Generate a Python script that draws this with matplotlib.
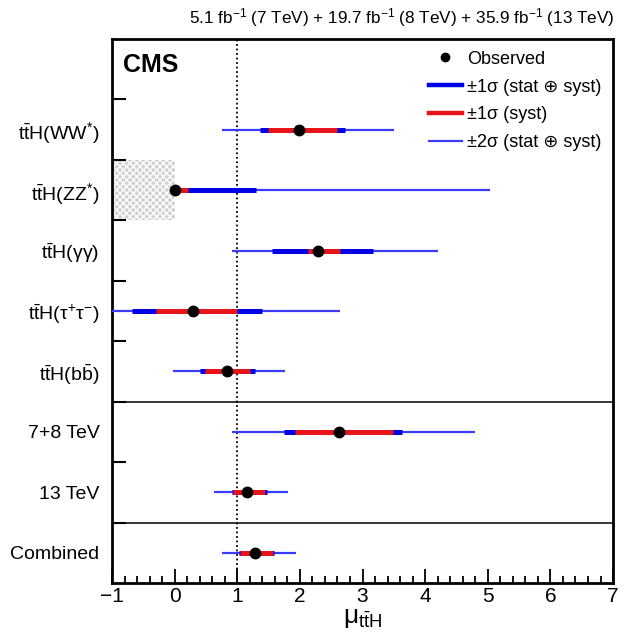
import matplotlib
matplotlib.use("Agg")
import matplotlib.pyplot as plt
from matplotlib.lines import Line2D
from matplotlib.patches import Rectangle

plt.rcParams['font.family'] = ['Liberation Sans', 'DejaVu Sans']
plt.rcParams['mathtext.fontset'] = 'custom'
plt.rcParams['mathtext.rm'] = 'Liberation Sans'
plt.rcParams['mathtext.it'] = 'Liberation Sans:italic'
plt.rcParams['mathtext.bf'] = 'Liberation Sans:bold'
plt.rcParams['hatch.linewidth'] = 1.0

# channels, top to bottom
labels = [r'$\mathrm{t\bar{t}H(WW^{*})}$', r'$\mathrm{t\bar{t}H(ZZ^{*})}$',
          r'$\mathrm{t\bar{t}H(\gamma\gamma)}$', r'$\mathrm{t\bar{t}H(\tau^{+}\tau^{-})}$',
          r'$\mathrm{t\bar{t}H(b\bar{b})}$', '7+8 TeV', '13 TeV', 'Combined']
mu = [1.99, 0.00, 2.29, 0.29, 0.83, 2.62, 1.16, 1.28]
syst_lo = [1.49, 0.00, 2.13, -0.29, 0.48, 1.92, 0.93, 1.04]
syst_hi = [2.59, 0.21, 2.64, 0.99, 1.20, 3.49, 1.45, 1.57]
tot1_lo = [1.36, 0.00, 1.55, -0.68, 0.40, 1.75, 0.91, 1.02]
tot1_hi = [2.72, 1.30, 3.17, 1.39, 1.28, 3.63, 1.47, 1.59]
tot2_lo = [0.75, 0.00, 0.92, -1.50, -0.02, 0.92, 0.63, 0.76]
tot2_hi = [3.51, 5.03, 4.20, 2.64, 1.76, 4.79, 1.81, 1.93]

ypos = [7.5 - i for i in range(len(labels))]

fig = plt.figure(figsize=(6.24, 6.4), dpi=100)
ax = fig.add_axes([0.1795, 0.089, 0.803, 0.85])

# excluded region for ZZ* (mu < 0)
ax.add_patch(Rectangle((-1, 6), 1, 1, facecolor='#d0d0d0', edgecolor='white',
                       hatch='xxxxx', linewidth=0, zorder=1))

ax.axvline(1, color='black', ls=(0, (1, 1.5)), lw=1.3, zorder=2)
ax.axhline(1, color='black', lw=1.1, zorder=2)
ax.axhline(3, color='black', lw=1.1, zorder=2)

ax.hlines(ypos, tot2_lo, tot2_hi, color='#3b3bff', lw=1.6, zorder=3)
ax.hlines(ypos, tot1_lo, tot1_hi, color='#0000e6', lw=3.6, zorder=4)
ax.hlines(ypos, syst_lo, syst_hi, color='#e8141c', lw=3.6, zorder=5)
ax.plot(mu, ypos, 'o', color='black', ms=7.5, zorder=6, clip_on=False)

ax.set_xlim(-1, 7)
ax.set_ylim(0, 9)

ax.set_xticks(range(-1, 8))
ax.set_xticks([x / 5 for x in range(-5, 36)], minor=True)
ax.tick_params(axis='x', which='major', direction='in', length=10, width=1.3,
               labelsize=15, pad=3, top=False)
ax.tick_params(axis='x', which='minor', direction='in', length=5, width=1.3, top=False)

ax.set_yticks(ypos, labels)
ax.set_yticks(range(1, 9), minor=True)
ax.tick_params(axis='y', which='major', length=0, labelsize=14, pad=9)
ax.tick_params(axis='y', which='minor', direction='in', length=10, width=1.5, right=False)

for s in ax.spines.values():
    s.set_linewidth(2.0)

ax.set_xlabel('$\\mathrm{\u03bc_{t\\bar{t}H}}$', fontsize=19, labelpad=0)

ax.text(0.022, 0.975, 'CMS', transform=ax.transAxes, fontsize=18,
        fontweight='bold', va='top', ha='left')
fig.text(0.985, 0.955, r'5.1 fb$^{-1}$ (7 TeV) + 19.7 fb$^{-1}$ (8 TeV) + 35.9 fb$^{-1}$ (13 TeV)',
         ha='right', va='bottom', fontsize=12.3)

handles = [
    Line2D([], [], marker='o', ls='none', color='black', ms=6),
    Line2D([], [], color='#0000e6', lw=3.2),
    Line2D([], [], color='#e8141c', lw=3.2),
    Line2D([], [], color='#3b3bff', lw=1.6),
]
names = ['Observed', '\u00b11\u03c3 (stat \u2295 syst)', '\u00b11\u03c3 (syst)',
         '\u00b12\u03c3 (stat \u2295 syst)']
ax.legend(handles, names, loc='upper right', bbox_to_anchor=(1.0, 1.0),
          frameon=False, fontsize=13, handlelength=1.8, handletextpad=0.3,
          labelspacing=0.6, borderaxespad=0.25)

fig.savefig('out.png', dpi=100)
